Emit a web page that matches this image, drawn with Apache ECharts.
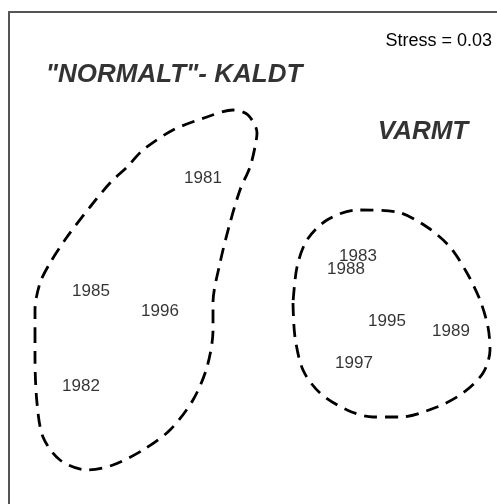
<!DOCTYPE html>
<html>
<head>
<meta charset="utf-8">
<script src="https://cdn.jsdelivr.net/npm/echarts@6/dist/echarts.min.js"></script>
<style>
  html, body { margin: 0; padding: 0; background: #fff; }
  #chart { width: 497px; height: 504px; }
</style>
</head>
<body>
<div id="chart"></div>
<script>
// MDS-plott: år plassert etter koordinater lest fra figuren
var years = ['1981', '1985', '1996', '1982', '1983', '1988', '1995', '1989', '1997'];
var yearX = [203, 91, 160, 81, 358, 346, 387, 451, 354];
var yearY = [178, 291, 311, 386, 256, 269, 321, 331, 363];

var groupNames = ['"NORMALT"- KALDT', 'VARMT'];
var groupX = [174, 423];
var groupY = [75, 132];

var stressText = 'Stress = 0.03';

// omriss rundt gruppene (stiplet)
var coldX = [35, 35, 37, 43, 60, 87, 113, 143, 170, 193, 207, 213, 213, 220, 230, 240, 250, 255, 257, 248, 233, 207, 173, 143, 127, 110, 90, 67, 50, 40, 35, 35];
var coldY = [330, 357, 403, 437, 460, 470, 465, 450, 430, 400, 367, 330, 303, 263, 223, 190, 167, 147, 133, 115, 110, 117, 130, 150, 167, 183, 207, 237, 263, 283, 310, 330];
var warmX = [293, 295, 303, 320, 347, 373, 400, 437, 463, 483, 490, 488, 480, 467, 450, 427, 397, 357, 327, 307, 297, 293];
var warmY = [303, 337, 370, 393, 410, 417, 417, 407, 393, 373, 350, 327, 300, 273, 247, 227, 212, 210, 220, 240, 267, 303];

function zip(xs, ys) {
    var out = [];
    for (var i = 0; i < xs.length; i++) {
        out.push([xs[i], ys[i]]);
    }
    return out;
}

var chart = echarts.init(document.getElementById('chart'));
var font = 'Liberation Sans, Arial, sans-serif';

var yearData = years.map(function (y, i) {
    return { name: y, value: [yearX[i], yearY[i]] };
});
var groupData = groupNames.map(function (g, i) {
    return { name: g, value: [groupX[i], groupY[i]] };
});

var dashed = {
    color: '#000',
    width: 2.8,
    type: [13, 8]
};

// bare venstre og øvre ramme synes i utsnittet
var frameAxis = {
    type: 'value',
    axisLine: { show: true, onZero: false, lineStyle: { color: '#555', width: 2 } },
    axisTick: { show: false },
    axisLabel: { show: false },
    splitLine: { show: false }
};

var option = {
    animation: false,
    backgroundColor: '#fff',
    title: {
        text: stressText,
        right: 0,
        top: 27,
        textStyle: {
            fontFamily: font,
            fontSize: 18,
            fontWeight: 'normal',
            color: '#000'
        }
    },
    grid: {
        left: 9,
        top: 12,
        right: 0,
        bottom: 0
    },
    xAxis: Object.assign({}, frameAxis, {
        position: 'top',
        min: 9,
        max: 497
    }),
    yAxis: Object.assign({}, frameAxis, {
        position: 'left',
        min: 12,
        max: 504,
        inverse: true
    }),
    series: [{
        name: 'kaldt',
        type: 'line',
        data: zip(coldX, coldY),
        smooth: 0.3,
        symbol: 'none',
        lineStyle: dashed
    }, {
        name: 'varmt',
        type: 'line',
        data: zip(warmX, warmY),
        smooth: 0.3,
        symbol: 'none',
        lineStyle: dashed
    }, {
        name: 'år',
        type: 'scatter',
        data: yearData,
        symbolSize: 0,
        label: {
            show: true,
            position: 'inside',
            formatter: '{b}',
            fontFamily: font,
            fontSize: 17,
            color: '#000',
            textBorderWidth: 0
        }
    }, {
        name: 'grupper',
        type: 'scatter',
        data: groupData,
        symbolSize: 0,
        label: {
            show: true,
            position: 'inside',
            formatter: '{b}',
            fontFamily: font,
            fontSize: 26,
            fontWeight: 'bold',
            fontStyle: 'italic',
            color: '#000',
            textBorderWidth: 0
        }
    }]
};

chart.setOption(option);
</script>
</body>
</html>
